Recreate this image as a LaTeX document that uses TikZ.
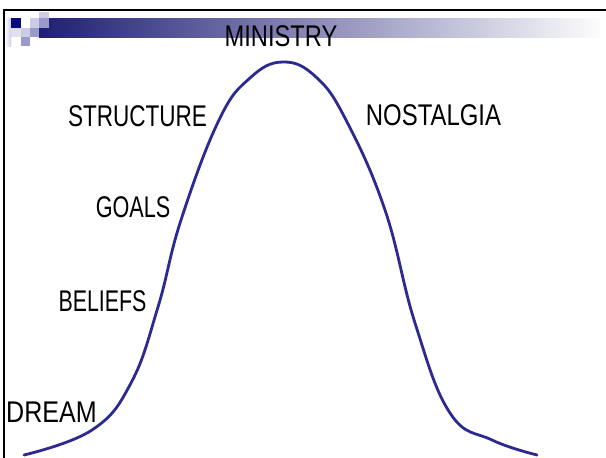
\documentclass[tikz,border=0pt]{standalone}
\usepackage{fontspec}
\setmainfont{Liberation Sans}
\usepackage{graphicx}
\definecolor{curveblue}{RGB}{42,42,145}
\definecolor{navysq}{RGB}{10,10,128}
\definecolor{barnavy}{RGB}{30,30,118}
\definecolor{palelav}{RGB}{204,204,228}
\definecolor{medlav}{RGB}{153,153,204}
\definecolor{barend}{RGB}{252,252,252}
\newcommand{\lbl}[2]{\scalebox{#1}[1.3]{#2}}
\tikzset{
  lab/.style={inner sep=0pt, outer sep=0pt, font=\fontsize{23}{23}\selectfont, text=black},
  curve/.style={draw=curveblue, line width=2.8pt, line cap=round, line join=round}
}
\begin{document}
\begin{tikzpicture}[x=1pt,y=-1pt]
\useasboundingbox (0,0) rectangle (606,458);
\fill[white] (0,0) rectangle (606,458);
% title bar gradient
\shade[left color=barnavy, right color=barend] (39,18) rectangle (600,37);
% left light gradient strip
\shade[left color=white, right color=palelav] (5,18) rectangle (11,46);
% squares
\fill[palelav] (39,12) rectangle (49,18);
\fill[navysq] (11,18) rectangle (21,27.7);
\fill[white] (21,18) rectangle (30,27.7);
\fill[palelav] (30,18) rectangle (39,27.7);
\fill[medlav] (39,18) rectangle (49,27.7);
\fill[palelav!60] (11,27.7) rectangle (21,37);
\fill[palelav] (21,27.7) rectangle (30,37);
\fill[medlav] (30,27.7) rectangle (39,37);
\fill[medlav] (21,37) rectangle (30,46);
% borders
\draw[black, line width=2.2pt] (3,10) -- (606,10);
\draw[black, line width=1.6pt] (4,9) -- (4,458);
% curve
\draw[curve] plot[smooth, tension=0.7] coordinates {
 (24,455) (92,430) (131,383) (158,307) (181,220) (219,120) (250,78)
 (283,62) (316,77) (346,120) (385,210) (415,323) (450,413) (492,440) (537,455)};
% labels
\node[lab] (ministry) at (281,36) {\lbl{1.03}{MINISTRY}};
\node[lab] (structure) at (137.5,116) {\lbl{0.98}{STRUCTURE}};
\node[lab] (nostalgia) at (433.5,115) {\lbl{1.04}{NOSTALGIA}};
\node[lab] (goals) at (133,207) {\lbl{0.94}{GOALS}};
\node[lab] (beliefs) at (102.5,301.5) {\lbl{0.93}{BELIEFS}};
\node[lab] (dream) at (51.5,412.5) {\lbl{1.09}{DREAM}};
\end{tikzpicture}
\end{document}
